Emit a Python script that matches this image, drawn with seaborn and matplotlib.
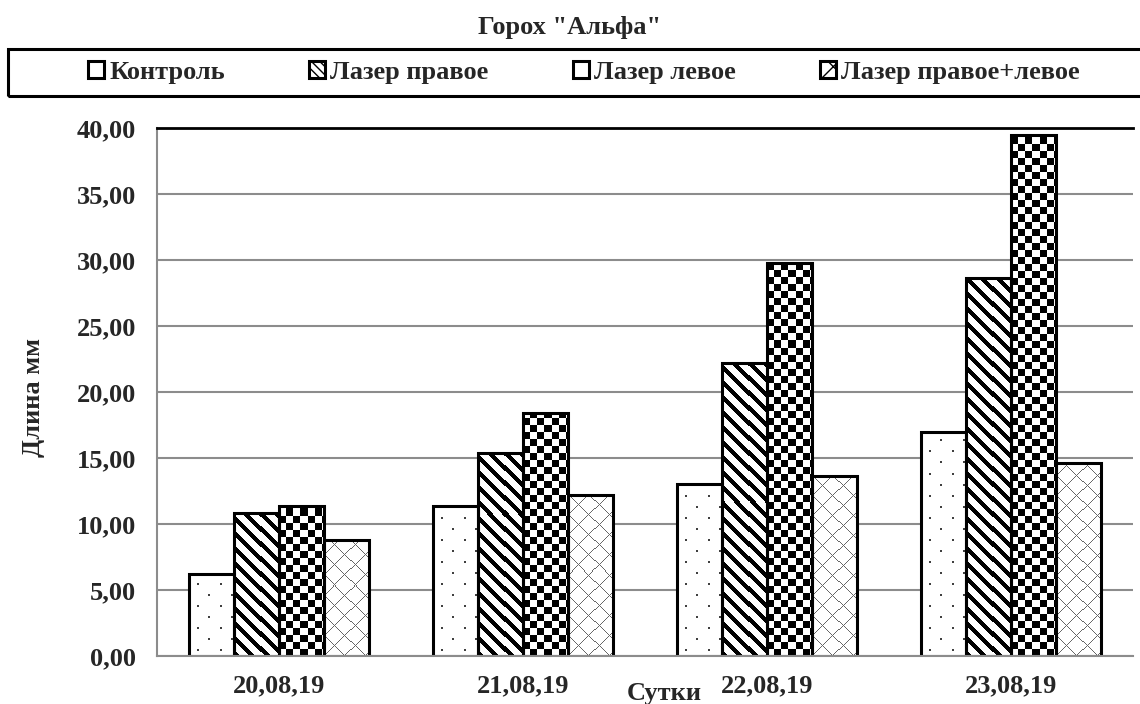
import matplotlib
matplotlib.use("Agg")
import matplotlib.pyplot as plt
import matplotlib.patches as mpatches
import seaborn as sns
import numpy as np
import pandas as pd

# values
days = ["20,08,19", "21,08,19", "22,08,19", "23,08,19"]
series = ["Контроль", "Лазер правое", "Лазер левое", "Лазер правое+левое"]
control = [6.2, 11.4, 13.0, 17.0]
laser_right = [10.8, 15.4, 22.2, 28.6]
laser_left = [11.4, 18.4, 29.8, 39.5]
laser_both = [8.8, 12.2, 13.6, 14.6]
y_ticks = [0, 5, 10, 15, 20, 25, 30, 35, 40]

df = pd.DataFrame({
    "day": days * 4,
    "group": np.repeat(series, len(days)),
    "value": control + laser_right + laser_left + laser_both,
})

sns.set_style("white")
plt.rcParams["font.family"] = ["Liberation Serif", "DejaVu Serif"]
plt.rcParams["font.weight"] = "bold"
FS = 19


def fill_pattern(kind, h, w):
    """black/white texture in pixels (row 0 = bottom), 1 = black"""
    r, c = np.indices((h, w))
    if kind == "dots":
        a = ((r % 22 == 5) & (c % 22 == 8)) | ((r % 22 == 16) & (c % 22 == 19))
        a = a | np.roll(a, 1, axis=1) | np.roll(a, 1, axis=0) | np.roll(np.roll(a, 1, axis=0), 1, axis=1)
        return a * 0.75
    if kind == "stripes":
        return (((r + c) % 15) < 6).astype(float)
    if kind == "checker":
        return ((r // 7 + c // 7) % 2).astype(float)
    # thin diagonal crosses
    return ((((r + c) % 20) == 0) | (((c - r) % 20) == 0)) * 0.6


fig = plt.figure(figsize=(11.4, 7.04), dpi=100)
ax = fig.add_axes([0.1377, 0.0682, 0.8562, 0.75])

sns.barplot(data=df, x="day", y="value", hue="group", order=days,
            hue_order=series, width=0.74, gap=0, palette=["white"] * 4,
            edgecolor="black", linewidth=2.2, legend=False, ax=ax)

# the Excel-like pattern fills, drawn as textures clipped to each bar
px_x = ax.bbox.width / 4.0
px_y = ax.bbox.height / 40.0
kinds = ["dots", "stripes", "checker", "cross"]
for cont, kind in zip(ax.containers, kinds):
    for bar in cont:
        x0, w, hgt = bar.get_x(), bar.get_width(), bar.get_height()
        nw = int(np.ceil(w * px_x)) + 1
        nh = int(np.ceil(hgt * px_y)) + 1
        tex = fill_pattern(kind, nh, nw)
        im = ax.imshow(tex, cmap="gray_r", vmin=0, vmax=1, origin="lower",
                       interpolation="nearest",
                       extent=(x0, x0 + nw / px_x, 0, nh / px_y),
                       aspect="auto", zorder=bar.get_zorder() - 0.1)
        im.set_clip_path(bar)
        bar.set_facecolor("none")

ax.set_xlim(-0.5, 3.5)
ax.set_ylim(0, 40)
ax.set_yticks(y_ticks)
ax.set_yticklabels([f"{v:.2f}".replace(".", ",") for v in y_ticks])
ax.yaxis.grid(True, color="#8c8c8c", linewidth=1.5)
ax.set_axisbelow(True)

ax.set_xticks(range(len(days)))
ax.set_xticklabels(days)
ax.set_xticks(np.arange(-0.5, 3.6, 1), minor=True)
ax.tick_params(axis="x", which="major", length=0, pad=13, labelsize=FS)
ax.tick_params(axis="x", which="minor", length=6, width=1.5, color="#8c8c8c",
               direction="out")
ax.tick_params(axis="y", length=5, width=1.5, color="#8c8c8c", labelsize=FS,
               pad=10)
for t in ax.get_xticklabels() + ax.get_yticklabels():
    t.set_fontweight("bold")

for side in ["left", "bottom"]:
    ax.spines[side].set_color("#8c8c8c")
    ax.spines[side].set_linewidth(1.5)
ax.spines["right"].set_visible(False)
ax.spines["top"].set_color("black")
ax.spines["top"].set_linewidth(2)

ax.set_xlabel("")
ax.set_ylabel("")
fig.text(0.029, 0.435, "Длина мм", rotation=90, ha="center", va="center",
         fontsize=FS, fontweight="bold")
fig.text(0.5825, 0.0156, "Сутки", fontsize=FS, fontweight="bold",
         ha="center", va="center")

fig.text(0.5, 0.9616, 'Горох "Альфа"', fontsize=FS, fontweight="bold",
         ha="center", va="center")

handles = [mpatches.Patch(facecolor="white", edgecolor="black", linewidth=2.2,
                          hatch=h) for h in ["", "\\\\\\\\", "", "x"]]
fig.legend(handles, series, ncol=4, loc="center", bbox_to_anchor=(0.5123, 0.897),
           frameon=False, handlelength=0.6, handleheight=0.6,
           handletextpad=0.2, columnspacing=3.2,
           prop={"weight": "bold", "size": FS})
fig.patches.append(mpatches.Rectangle((0.007, 0.8636), 1.0, 0.0668,
                                      transform=fig.transFigure, fill=False,
                                      edgecolor="black", linewidth=2.2))

fig.savefig("out.png", dpi=100)
